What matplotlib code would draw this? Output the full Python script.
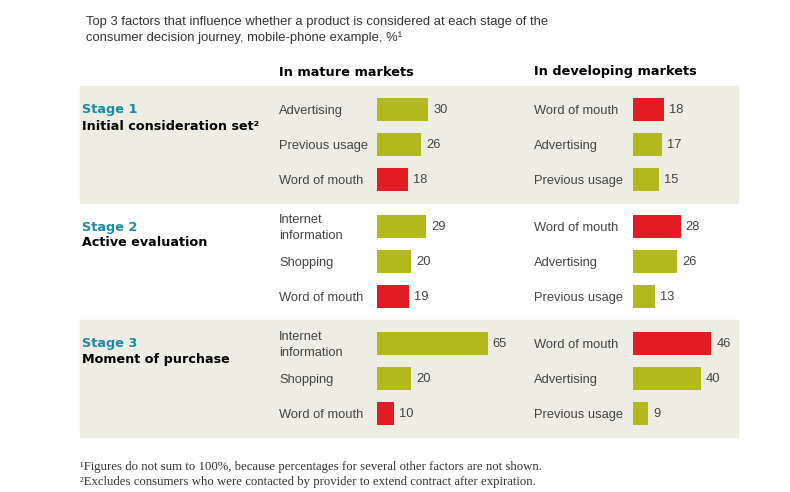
import matplotlib.pyplot as plt
from matplotlib.patches import Rectangle

plt.rcParams['font.family'] = ['Liberation Sans', 'DejaVu Sans']

stages = ['Stage 1', 'Stage 2', 'Stage 3']
stage_names = ['Initial consideration set²', 'Active evaluation', 'Moment of purchase']

mature_labels = [['Advertising', 'Previous usage', 'Word of mouth'],
                 ['Internet\ninformation', 'Shopping', 'Word of mouth'],
                 ['Internet\ninformation', 'Shopping', 'Word of mouth']]
mature_values = [[30, 26, 18], [29, 20, 19], [65, 20, 10]]

dev_labels = [['Word of mouth', 'Advertising', 'Previous usage'],
              ['Word of mouth', 'Advertising', 'Previous usage'],
              ['Word of mouth', 'Advertising', 'Previous usage']]
dev_values = [[18, 17, 15], [28, 26, 13], [46, 40, 9]]

GREEN = '#b1b91d'
RED = '#e31b23'
PANEL = '#eeede4'
TEAL = '#1b8aa3'

W, H = 790, 492
fig = plt.figure(figsize=(W / 100, H / 100), dpi=100)
bg = fig.add_axes([0, 0, 1, 1])
bg.set_xlim(0, W)
bg.set_ylim(H, 0)
bg.axis('off')

top, step, row = 86, 117, 35

def is_red(lbl):
    return lbl == 'Word of mouth'

# stage panels (1 and 3 shaded)
for s in range(3):
    if s != 1:
        bg.add_patch(Rectangle((80, top + s * step), 658, step, color=PANEL, zorder=0))

bg.text(86, 22, 'Top 3 factors that influence whether a product is considered at each stage of the',
        fontsize=9.4, va='center', ha='left', color='#333333')
bg.text(86, 38, 'consumer decision journey, mobile-phone example, %¹',
        fontsize=9.4, va='center', ha='left', color='#333333')
bg.text(279, 72, 'In mature markets', fontsize=9.3, weight='bold', va='center', family='DejaVu Sans')
bg.text(534, 72, 'In developing markets', fontsize=9.3, weight='bold', va='center', family='DejaVu Sans')

for s in range(3):
    y0 = top + 24 + s * step
    bg.text(82, y0, stages[s], fontsize=9.3, weight='bold', color=TEAL, va='center',
            family='DejaVu Sans')
    bg.text(82, y0 + 16, stage_names[s], fontsize=9.2, weight='bold', color='black',
            va='center', family='DejaVu Sans')


def draw_bars(left_px, labels, values, label_x):
    ax = fig.add_axes([left_px / W, (H - 437) / H, 1.7 * 70 / W, (437 - top) / H])
    ax.set_xlim(0, 70)
    ax.set_ylim(437, top)
    ax.axis('off')
    for s in range(3):
        for r in range(3):
            yc = top + 24 + s * step + r * row
            v = values[s][r]
            lbl = labels[s][r]
            ax.barh(yc, v, height=23, color=RED if is_red(lbl) else GREEN)
            ax.text(v + 3, yc, str(v), fontsize=9.3, va='center', ha='left',
                    color='#444444', clip_on=False)
            bg.text(label_x, yc + 1, lbl, fontsize=9.3, va='center', ha='left',
                    color='#444444', linespacing=1.45)


draw_bars(377, mature_labels, mature_values, 279)
draw_bars(633, dev_labels, dev_values, 534)

bg.text(80, 467, '¹Figures do not sum to 100%, because percentages for several other factors are not shown.',
        fontsize=9.2, family='Liberation Serif', va='center', color='#333333')
bg.text(80, 482, '²Excludes consumers who were contacted by provider to extend contract after expiration.',
        fontsize=9.2, family='Liberation Serif', va='center', color='#333333')

fig.savefig('out.png', dpi=100)
